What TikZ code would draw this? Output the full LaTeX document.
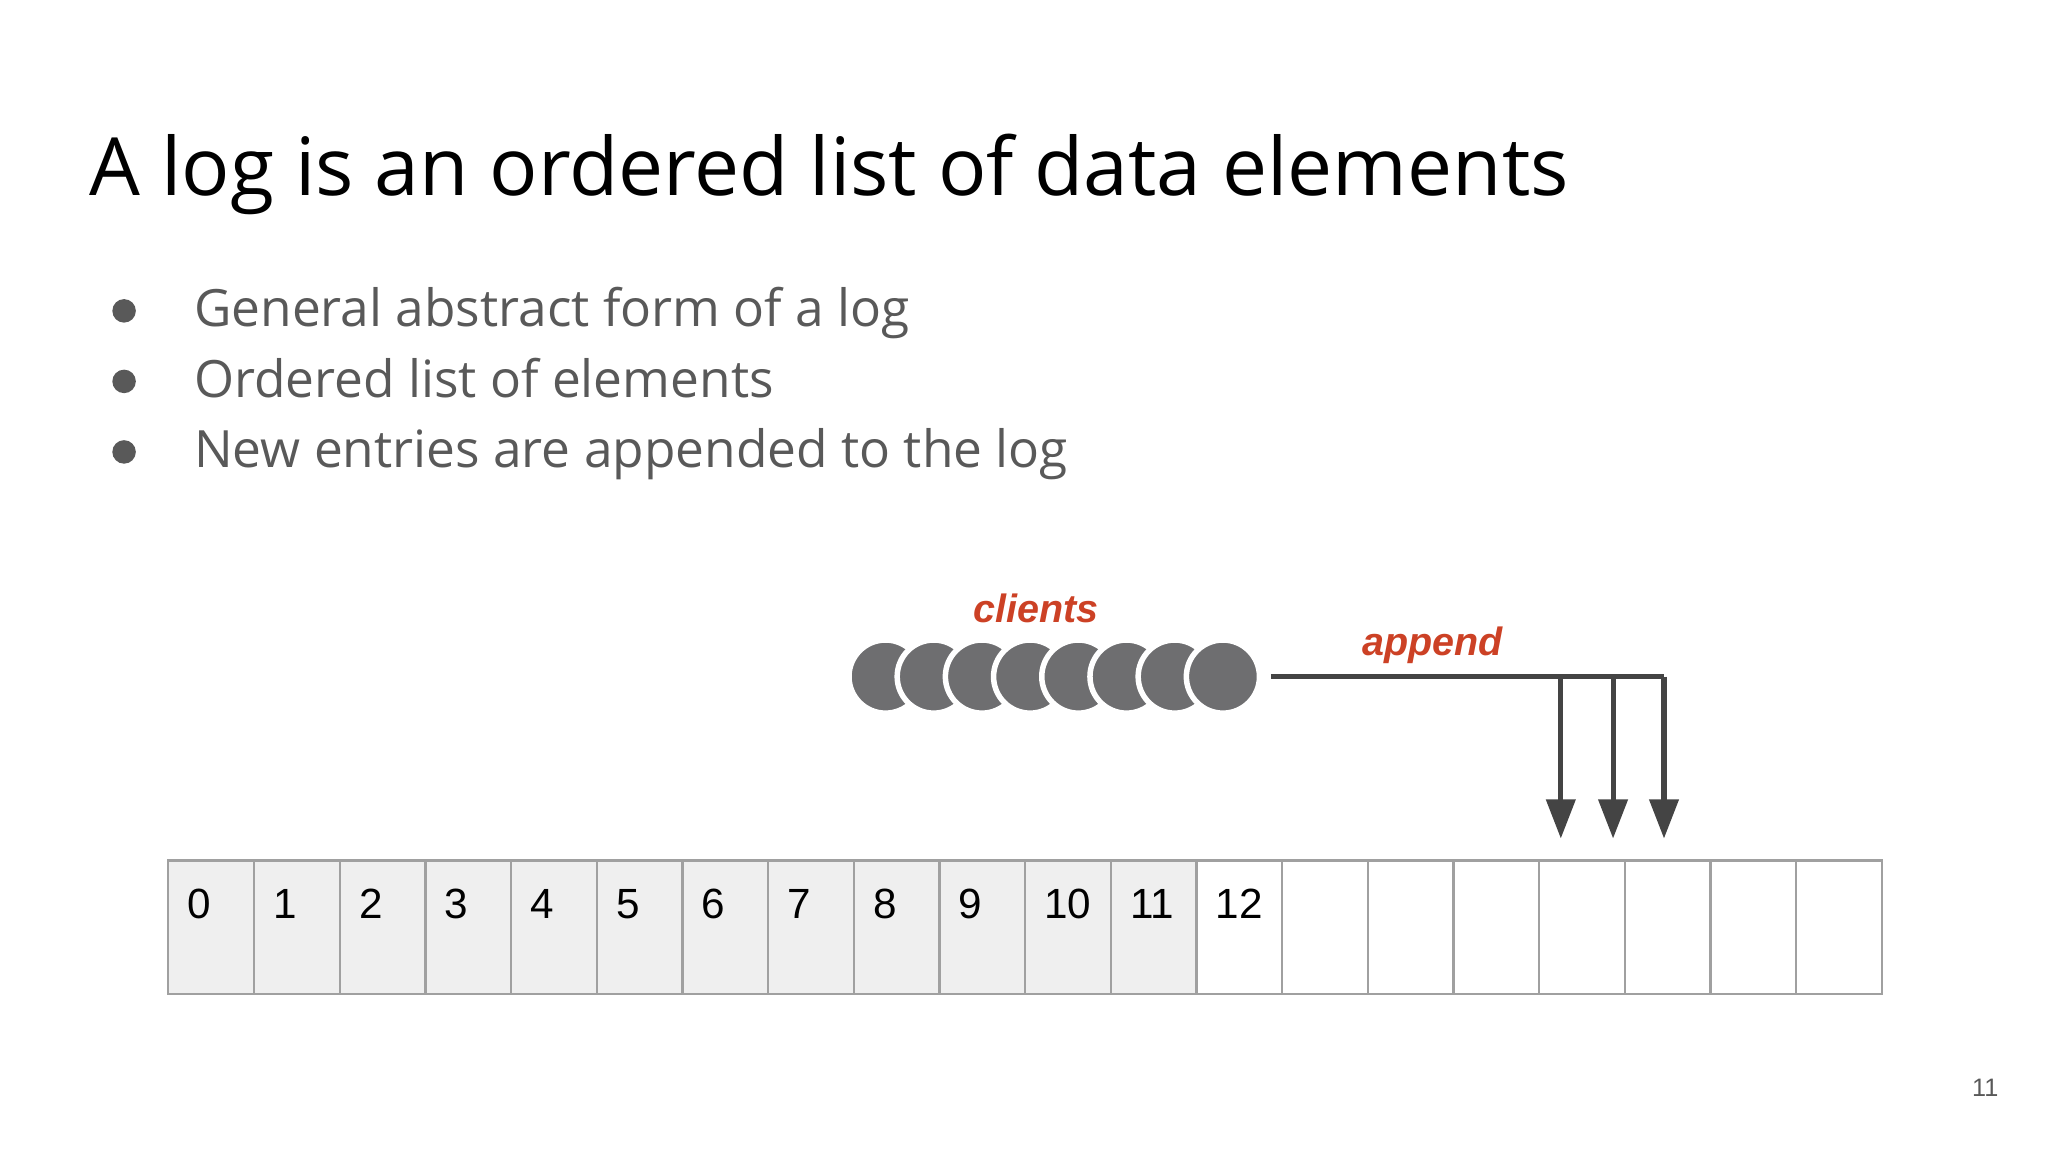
\documentclass[tikz,border=0pt]{standalone}
\usepackage{fontspec}
\setmainfont{Open Sans}
\newfontfamily\arialf{Liberation Sans}
\usetikzlibrary{arrows.meta,calc}
\definecolor{txtgray}{HTML}{595959}
\definecolor{redlab}{HTML}{CC4125}
\definecolor{cellfill}{HTML}{EFEFEF}
\definecolor{cellline}{HTML}{A0A0A0}
\definecolor{circ}{HTML}{6E6E70}
\definecolor{arr}{HTML}{444444}
\tikzset{
  cellbox/.style={draw=cellline,line width=0.5pt,minimum width=6.56mm,minimum height=10.2mm,anchor=north west,inner sep=0pt},
  cellnum/.style={anchor=north west,font=\arialf\fontsize{9.2}{10}\selectfont,inner sep=0pt},
  bul/.style={anchor=base west,font=\fontsize{11.2}{13}\selectfont,text=txtgray,inner sep=0pt},
  redtxt/.style={font=\arialf\bfseries\itshape\fontsize{8.6}{10}\selectfont,text=redlab,inner sep=0pt},
  client/.style={circle,fill=circ,draw=white,line width=1.2pt,minimum size=5.6mm,inner sep=0pt},
  feed/.style={draw=arr,line width=1.1pt},
  drop/.style={draw=arr,line width=1.1pt,-{Triangle[length=3mm,width=2.2mm]}}
}
\begin{document}
\begin{tikzpicture}[x=0.1mm,y=-0.1mm]
\useasboundingbox (0,0) rectangle (1568,882);
\node[anchor=base west,inner sep=0pt,font=\fontsize{17.5}{20}\selectfont] (title) at (68,150) {A log is an ordered list of data elements};
\foreach \t/\yy [count=\i] in {General abstract form of a log/250,Ordered list of elements/304,New entries are appended to the log/358}{
  \fill[txtgray] (95,\yy-12) circle (9) coordinate (dot\i);
  \node[bul] (b\i) at (148,\yy) {\t};
}
\foreach \i in {0,...,19}{
  \pgfmathsetmacro\xx{128+65.6*\i}
  \ifnum\i<12
    \node[cellbox,fill=cellfill] (c\i) at (\xx,658) {};
  \else
    \node[cellbox] (c\i) at (\xx,658) {};
  \fi
}
\foreach \i in {0,...,12}{
  \node[cellnum] (n\i) at ($(c\i.north west)+(15,22)$) {\i};
}
\foreach \i in {0,...,7}{
  \node[client] (cl\i) at (678+36.9*\i,518) {};
}
\node[redtxt] (clients) at (793,466) {clients};
\node[redtxt] (append) at (1097,494) {append};
\coordinate (s) at (973,518);
\coordinate (j1) at (1195,518);
\coordinate (j2) at (1235,518);
\coordinate (j3) at (1274,518);
\coordinate (t1) at (1195,642);
\coordinate (t2) at (1235,642);
\coordinate (t3) at (1274,642);
\draw[feed] (s) -- (j3);
\draw[drop] (j1) -- (t1);
\draw[drop] (j2) -- (t2);
\draw[drop] (j3) -- (t3);
\node[font=\arialf\fontsize{5.5}{6}\selectfont,text=txtgray] (pg) at (1520,833) {11};
\end{tikzpicture}
\end{document}
